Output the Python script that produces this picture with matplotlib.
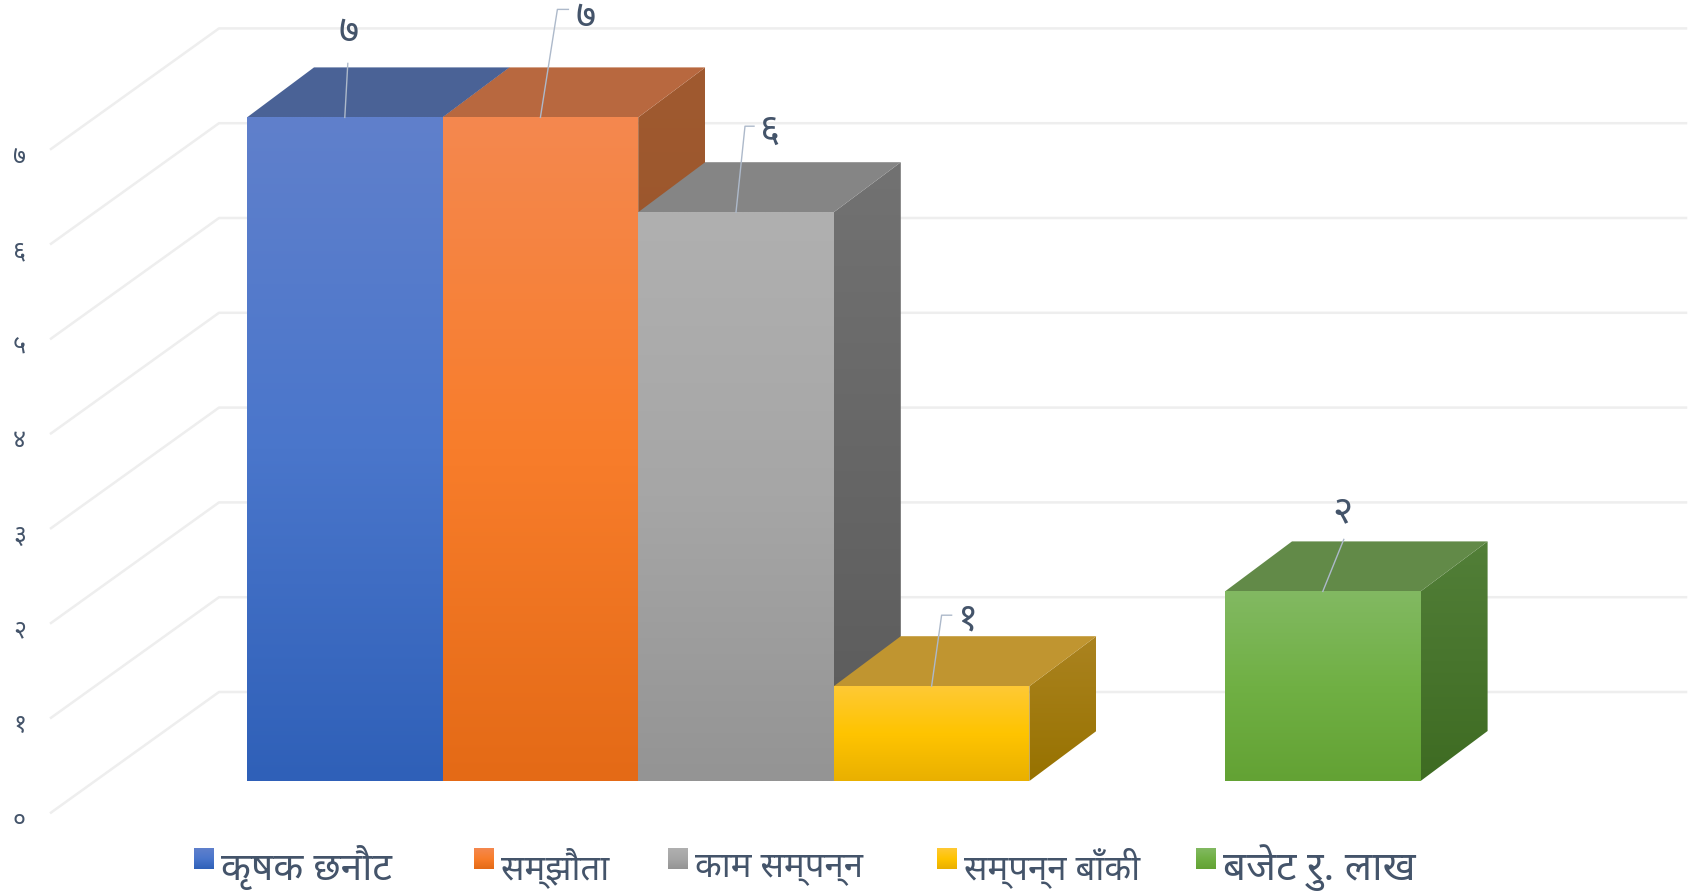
import matplotlib
matplotlib.use("Agg")
import matplotlib.pyplot as plt
from matplotlib.colors import LinearSegmentedColormap
from matplotlib.patches import Polygon
import numpy as np

plt.rcParams['font.family'] = ['Noto Sans', 'DejaVu Sans']

# data
categories = ["कृषक छनौट", "सम्झौता", "काम सम्पन्न", "सम्पन्न बाँकी", "बजेट रु. लाख"]
values = [7, 7, 6, 1, 2]
value_labels = ["७", "७", "६", "१", "२"]
tick_labels = ["०", "१", "२", "३", "४", "५", "६", "७"]
slots = [0, 1, 2, 3, 5]

# colours per bar: top to bottom of the face
front_colors = [
    ["#6080cc", "#4a76cb", "#2f60b8"],
    ["#f4884f", "#f87d2b", "#e46a16"],
    ["#b0b0b0", "#a6a6a6", "#949494"],
    ["#fec935", "#ffc400", "#e9b000"],
    ["#82b962", "#70b044", "#63a234"],
]
top_colors = ["#4a6296", "#b8683f", "#858585", "#c09530", "#628a48"]
side_colors = [
    ["#4a6296", "#2f4a80"],
    ["#a05a30", "#8f4e22"],
    ["#727272", "#5a5a5a"],
    ["#ab8320", "#977200"],
    ["#527f38", "#3e6b22"],
]
text_color = "#44546a"
grid_color = "#eeeeee"

# pixel layout of the 3d box
W, H = 1692, 893
X0, XU = 247.0, 195.6
Y0, YU = 781.0, 94.8
DX, DY = 67 / XU, 50 / YU


def px(x):
    return (x - X0) / XU


def py(y):
    return (Y0 - y) / YU


def face(ax, pts, colors, zorder):
    # gradient image clipped to a polygon
    pts = np.array(pts)
    cmap = LinearSegmentedColormap.from_list("f", colors)
    grad = np.linspace(0, 1, 256).reshape(-1, 1)
    im = ax.imshow(grad, cmap=cmap, aspect="auto", zorder=zorder, interpolation="bilinear",
                   extent=(pts[:, 0].min(), pts[:, 0].max(), pts[:, 1].min(), pts[:, 1].max()))
    clip = Polygon(pts, closed=True, transform=ax.transData)
    im.set_clip_path(clip)


fig = plt.figure(figsize=(W / 100, H / 100), dpi=100)
ax = fig.add_axes([0, 0, 1, 1])
ax.axis("off")

# walls: slanted line on the left, then straight along the back
for v in range(len(tick_labels)):
    back = py(692) + v
    front = py(812.6) + v
    ax.plot([px(51), px(219), px(1686)], [front, back, back], color=grid_color, lw=1.8, zorder=1)
    ax.text(px(19.5), front - 0.085, tick_labels[v], color=text_color, fontsize=18,
            ha="center", va="center", zorder=5)

# bars, left to right so each covers the side of the one before
z = 2
for i, (s, v) in enumerate(zip(slots, values)):
    face(ax, [(s, 0), (s + 1, 0), (s + 1, v), (s, v)], front_colors[i], z + 0.2)
    ax.add_patch(Polygon([(s, v), (s + 1, v), (s + 1 + DX, v + DY), (s + DX, v + DY)],
                         closed=True, fc=top_colors[i], ec="none", zorder=z + 0.1))
    face(ax, [(s + 1, 0), (s + 1 + DX, DY), (s + 1 + DX, v + DY), (s + 1, v)], side_colors[i], z)
    z += 1

# data labels with leader lines, offsets in pixels from the middle of the bar top
leaders = [
    [(0, 0), (3, -54)],
    [(0, 0), (17, -108), (28, -108)],
    [(0, 0), (9, -86), (18, -86)],
    [(0, 0), (10, -71), (20, -71)],
    [(0, 0), (21, -52)],
]
label_offsets = [(4, -85), (45, -100), (34, -81), (37, -67), (20, -79)]
for i, (s, v) in enumerate(zip(slots, values)):
    xs = [s + 0.5 + p[0] / XU for p in leaders[i]]
    ys = [v - p[1] / YU for p in leaders[i]]
    ax.plot(xs, ys, color="#adb9ca", lw=1.0, zorder=20)
    ox, oy = label_offsets[i]
    ax.text(s + 0.5 + ox / XU, v - oy / YU, value_labels[i], color=text_color, fontsize=28,
            ha="center", va="center", zorder=21)

# legend
swatch_x = [194, 474, 668, 937, 1196]
legend_sizes = [28, 25, 25, 25, 29]
for i, name in enumerate(categories):
    sx = swatch_x[i]
    face(ax, [(px(sx), py(869)), (px(sx + 20), py(869)), (px(sx + 20), py(848)), (px(sx), py(848))],
         front_colors[i], 30)
    ax.text(px(sx + 27), py(868), name, color=text_color, fontsize=legend_sizes[i], ha="left",
            va="center", zorder=30)

ax.set_xlim(px(0), px(W))
ax.set_ylim(py(H), py(0))

fig.savefig("out.png", dpi=100, facecolor="white")
